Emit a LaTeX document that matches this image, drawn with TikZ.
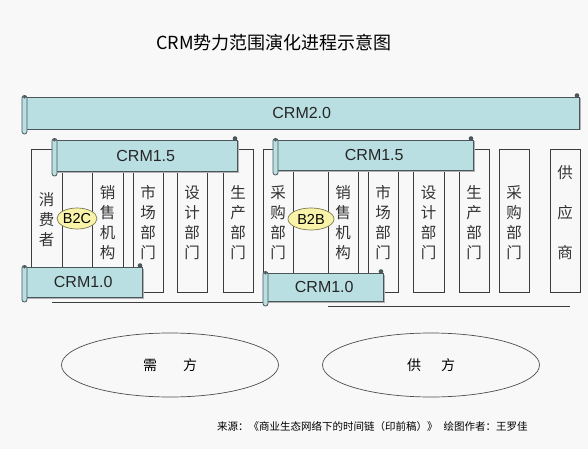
\documentclass[tikz,border=0pt]{standalone}
\usepackage{fontspec}
\setmainfont{Liberation Sans}
\newfontfamily\cjk{Noto Sans CJK SC}
\usetikzlibrary{shapes.geometric}
\definecolor{bgc}{HTML}{F8F8F8}
\definecolor{scrollfill}{HTML}{B9DFE3}
\definecolor{scrollline}{HTML}{4A5659}
\definecolor{colline}{HTML}{3C3C3C}
\definecolor{ovalfill}{HTML}{F8F3A8}
\definecolor{ovalline}{HTML}{7D7B52}
\definecolor{txt}{HTML}{333333}
\tikzset{
  colbox/.style={draw=colline, line width=0.7pt, fill=bgc},
  groundline/.style={draw=colline, line width=0.7pt},
  scrollbody/.style={draw=scrollline, line width=0.8pt, fill=scrollfill},
  scrollshade/.style={fill=black!30},
  crmlabel/.style={font=\fontsize{16}{18}\selectfont, text=black!85, inner sep=0pt},
  vtext/.style={font=\cjk\fontsize{15.5}{20}\selectfont, text=txt, align=center, inner sep=0pt},
  bxoval/.style={ellipse, draw=ovalline, line width=0.7pt, fill=ovalfill, inner sep=0pt, font=\fontsize{14.5}{16}\selectfont},
  sideoval/.style={ellipse, draw=black!70, line width=0.7pt, minimum width=217pt, minimum height=64pt, inner sep=0pt, font=\cjk\fontsize{14}{16}\selectfont},
}
\newcommand\crmscroll[6]{%
  \fill[scrollshade] (#2+1.5,#3+1.5) rectangle (#4+1.5,#5+1.5);
  \draw[scrollbody] (#2,#3) rectangle (#4,#5);
  \draw[scrollbody, rounded corners=2.4pt] (#2-2.5,#3-1.5) rectangle (#2+2.5,#5+5);
  \fill[scrollline] (#2,#3) circle (1.6pt);
  \fill[scrollline] (#4-2,#3-1.5) circle (2.3pt);
  \node[crmlabel] (#1) at ({(#2+#4)/2},{(#3+#5)/2}) {#6};
}
\begin{document}
\begin{tikzpicture}[x=1pt,y=-1pt]
\fill[bgc] (0,0) rectangle (588,449);
\useasboundingbox (0,0) rectangle (588,449);

% title
\node[font=\cjk\fontsize{18}{20}\selectfont] (title) at (274,43) {CRM势力范围演化进程示意图};

% left group columns
\foreach \a/\b in {31/62, 62/92, 92/123, 133/163, 177/207, 223/253}
  \draw[colbox] (\a,149) rectangle (\b,292);
% right group columns
\foreach \a/\b in {263/293, 293/328, 328/358, 368/398, 413/444, 459/489, 499/529, 550/580}
  \draw[colbox] (\a,149) rectangle (\b,292);

% ground lines
\draw[groundline] (52,302) -- (288,302);
\draw[groundline] (328,306) -- (570,306);

% column texts, left
\node[vtext] (consumer) at (46.5,220) {消\\费\\者};
\node[vtext] (salesL) at (107.5,223) {销\\售\\机\\构};
\node[vtext] (marketL) at (148,223) {市\\场\\部\\门};
\node[vtext] (designL) at (192,223) {设\\计\\部\\门};
\node[vtext] (prodL) at (238,223) {生\\产\\部\\门};
% column texts, right
\node[vtext] (purchR1) at (278,223) {采\\购\\部\\门};
\node[vtext] (salesR) at (343,223) {销\\售\\机\\构};
\node[vtext] (marketR) at (383,223) {市\\场\\部\\门};
\node[vtext] (designR) at (428.5,223) {设\\计\\部\\门};
\node[vtext] (prodR) at (474,223) {生\\产\\部\\门};
\node[vtext] (purchR2) at (514,223) {采\\购\\部\\门};
\node[vtext, font=\cjk\fontsize{15.5}{40}\selectfont] (supplier) at (565,213) {供\\应\\商};

% B2C / B2B
\node[bxoval, minimum width=40pt, minimum height=21pt] (b2c) at (77,218.5) {B2C};
\node[bxoval, minimum width=46pt, minimum height=22pt] (b2b) at (311,219) {B2B};

% scrolls
\crmscroll{crm20}{24.5}{97}{579}{129}{CRM2.0}
\crmscroll{crm15l}{54.5}{140}{237}{171}{CRM1.5}
\crmscroll{crm15r}{275.5}{140}{473}{170}{CRM1.5}
\crmscroll{crm10l}{24.5}{267}{142}{297}{CRM1.0}
\crmscroll{crm10r}{265.5}{273}{383}{301}{CRM1.0}

% demand / supply
\node[sideoval] (demand) at (170,365) {需\hspace{26pt}方};
\node[sideoval] (supply) at (431,365) {供\hspace{20pt}方};

% source
\node[anchor=west, inner sep=0pt, font=\cjk\fontsize{10.5}{12}\selectfont] (source) at (217,427) {来源：《商业生态网络下的时间链（印前稿）》\hspace{6pt}绘图作者：王罗佳};
\end{tikzpicture}
\end{document}
